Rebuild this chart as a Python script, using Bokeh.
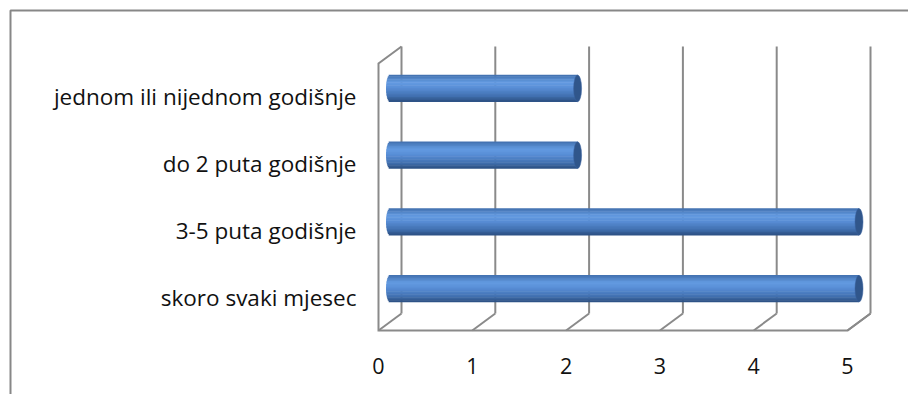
import numpy as np
from bokeh.plotting import figure
from bokeh.models import Range1d
from bokeh.embed import file_html
from bokeh.resources import INLINE
from bokeh.core.properties import value as pv

# ---- data ----
categories = ["skoro svaki mjesec", "3-5 puta godišnje",
              "do 2 puta godišnje", "jednom ili nijednom godišnje"]
values = [5, 5, 2, 2]
ticks = [0, 1, 2, 3, 4, 5]
tick_labels = ["0", "1", "2", "3", "4", "5"]

# ---- layout (pixels on the page) ----
W, H = 908, 394
PAGE = 0
X0 = 378.0     # page px of value 0 on the front plane
PXV = 93.8     # px per unit value
YF = 330.0     # page px of the floor front edge
PXC = 66.75    # px per category
DXP, DYP = 23.0, 17.0  # 3D depth offset

x_start = (PAGE - X0) / PXV
x_end = (PAGE + W - X0) / PXV
y_top = (YF - PAGE) / PXC - 0.5
y_bot = (YF - PAGE - H) / PXC - 0.5
DX = DXP / PXV
DY = DYP / PXC

p = figure(width=W, height=H, x_range=Range1d(x_start, x_end),
           y_range=Range1d(y_bot, y_top), x_axis_type=None, y_axis_type=None,
           toolbar_location=None, output_backend="svg", min_border=0,
           outline_line_color=None, background_fill_color="white",
           border_fill_color="white")

GRID = "#8a8a8a"
n = len(categories)
y_lo, y_hi = -0.5, n - 0.5
vmax = max(ticks)

# back wall gridlines
p.segment(x0=[t + DX for t in ticks], y0=[y_lo + DY] * len(ticks),
          x1=[t + DX for t in ticks], y1=[y_hi + DY] * len(ticks),
          line_color=GRID, line_width=2)
# floor diagonals
p.segment(x0=ticks, y0=[y_lo] * len(ticks),
          x1=[t + DX for t in ticks], y1=[y_lo + DY] * len(ticks),
          line_color=GRID, line_width=2)
# left wall + floor front edge
p.line(x=[DX, 0, 0, vmax, vmax + DX], y=[y_hi + DY, y_hi, y_lo, y_lo, y_lo + DY],
       line_color=GRID, line_width=2, line_join="miter")

# ---- cylinders ----
def hex2rgb(h):
    return np.array([int(h[i:i + 2], 16) for i in (1, 3, 5)], dtype=float)

stops = [(0.0, "#416fad"), (0.28, "#639be2"), (0.5, "#588dd5"),
         (0.8, "#4170b0"), (1.0, "#2b4e80")]

def grad(f):
    for (f0, c0), (f1, c1) in zip(stops[:-1], stops[1:]):
        if f <= f1:
            u = (f - f0) / (f1 - f0)
            c = hex2rgb(c0) * (1 - u) + hex2rgb(c1) * u
            return "#%02x%02x%02x" % tuple(int(round(v)) for v in c)
    return stops[-1][1]

BH = 0.4
A = 4.0 / PXV
N = 18
ymids = [i + DY / 2 for i in range(n)]
rights = [v + DX / 2 for v in values]
for k in range(N):
    t = 1 - (2 * k + 1) / N
    f = (k + 0.5) / N
    ys = [ym + t * BH / 2 for ym in ymids]
    lefts = [DX / 2 - A * np.sqrt(max(0.0, 1 - t * t))] * n
    p.hbar(y=ys, left=lefts, right=rights, height=BH / N * 1.35,
           fill_color=grad(f), line_color=None)
p.ellipse(x=rights, y=ymids, width=2 * A, height=BH,
          fill_color="#30568b", line_color="#3a63a0", line_width=0.5)

# ---- texts ----
FONT = pv("Open Sans")
p.text(x=[(356 - X0) / PXV] * n, y=list(range(n)), text=categories,
       text_align="right", text_baseline="middle", text_font=FONT,
       text_font_size="22.5px", text_color="#111111")
tick_y = (YF - 365) / PXC - 0.5
p.text(x=ticks, y=[tick_y] * len(ticks), text=tick_labels,
       text_align="center", text_baseline="middle", text_font=FONT,
       text_font_size="21.5px", text_color="#111111")

# ---- outer chart frame (top and left edges visible) ----
fx = (10 - X0) / PXV
fy = (YF - 10) / PXC - 0.5
p.line(x=[fx, fx, x_end + 1], y=[y_bot - 1, fy, fy], line_color="#878787",
       line_width=2)

open("out.html", "w").write(file_html(p, INLINE))
